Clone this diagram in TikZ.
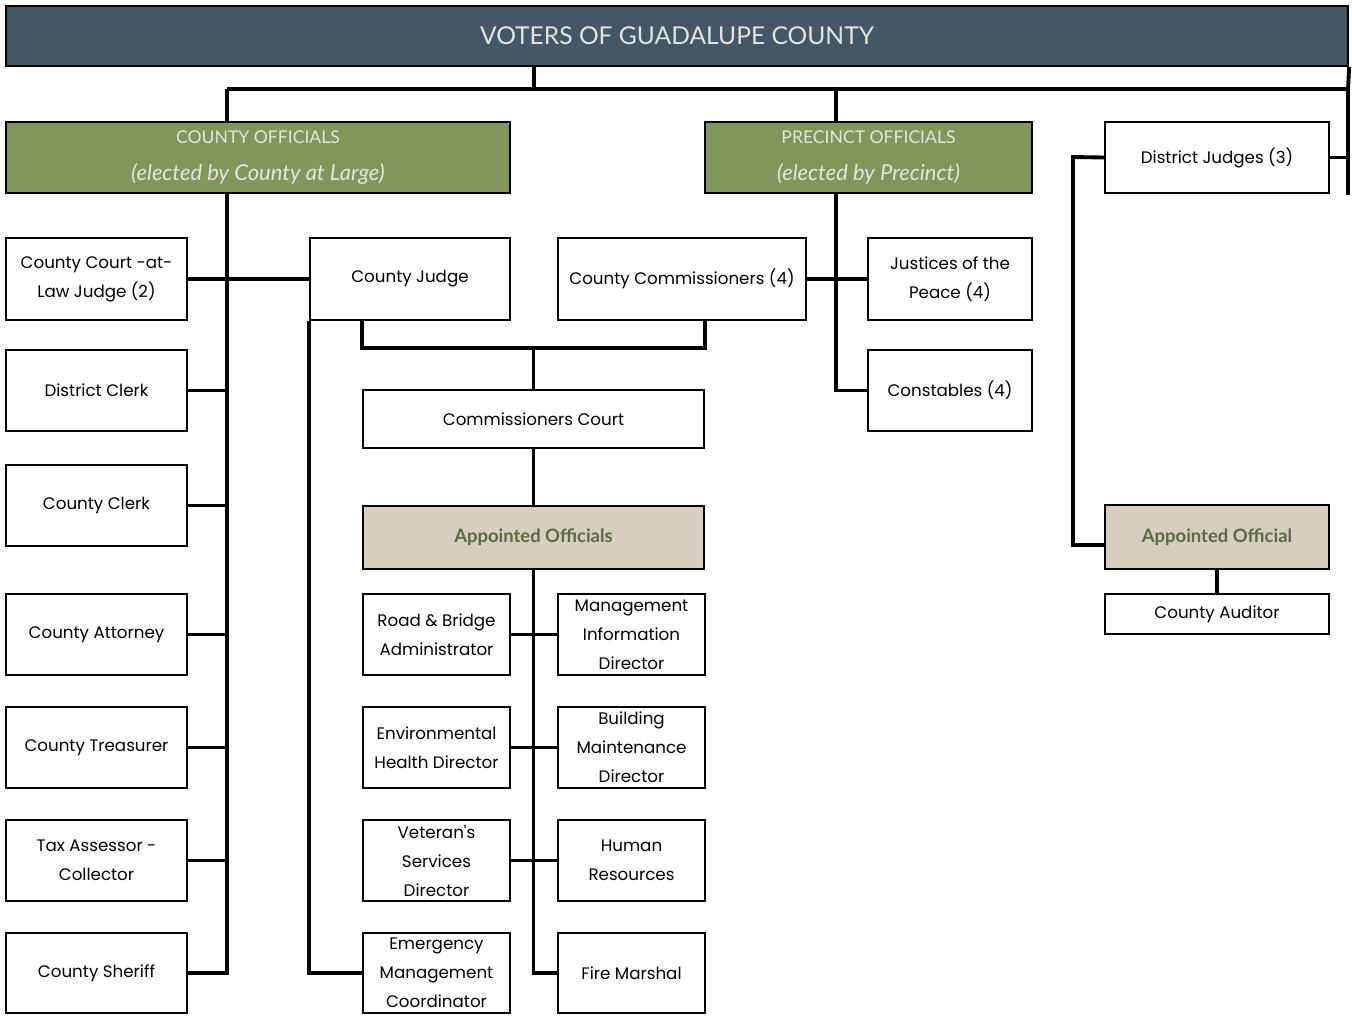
\documentclass[tikz,border=0pt]{standalone}
\usepackage{fontspec}
\usepackage{tikz}
\newfontfamily\bodyfont{Poppins}
\newfontfamily\headfont{Lato}

\definecolor{slate}{HTML}{435766}
\definecolor{olive}{HTML}{82965B}
\definecolor{sand}{HTML}{D6CEBF}
\definecolor{moss}{HTML}{5A6B3F}
\definecolor{pale}{HTML}{E4E4DC}

\tikzset{
  sz/.style 2 args={minimum width=#1*0.02cm, minimum height=#2*0.02cm},
  box/.style={draw, line width=1.3pt, fill=white, align=center, inner sep=0pt,
    font=\bodyfont\fontsize{9.5}{16.5}\selectfont},
  banner/.style={box, fill=slate, text=pale, font=\headfont\fontsize{14}{16}\selectfont},
  group/.style={box, fill=olive, text=pale, font=\headfont\fontsize{10}{20}\selectfont},
  appoint/.style={box, fill=sand, text=moss, font=\headfont\bfseries\fontsize{10.5}{12}\selectfont},
  link/.style={line width=2.2pt}
}
\newcommand{\electedby}[1]{{\fontsize{12.5}{14}\selectfont\itshape #1}}

\begin{document}
\begin{tikzpicture}[x=0.02cm, y=-0.02cm]
    \useasboundingbox (0,0) rectangle (1352,1015);

    % kopf
    \node[banner, sz={1342}{60}] (voters) at (677,36) {VOTERS OF GUADALUPE COUNTY};

    % gruppen
    \node[group, sz={504}{71}] (cofficials) at (258,157.5) {COUNTY OFFICIALS\\[1pt] \electedby{(elected by County at Large)}};
    \node[group, sz={327}{71}] (pofficials) at (868.5,157.5) {PRECINCT OFFICIALS\\[1pt] \electedby{(elected by Precinct)}};
    \node[box, sz={224}{71}] (djudges) at (1217,157.5) {District Judges (3)};

    % linke spalte
    \node[box, sz={181}{82}] (ccal) at (96.5,279) {County Court -at-\\Law Judge (2)};
    \node[box, sz={181}{81}] (dclerk) at (96.5,390.5) {District Clerk};
    \node[box, sz={181}{81}] (cclerk) at (96.5,505.5) {County Clerk};
    \node[box, sz={181}{81}] (cattorney) at (96.5,634.5) {County Attorney};
    \node[box, sz={181}{81}] (ctreasurer) at (96.5,747.5) {County Treasurer};
    \node[box, sz={181}{81}] (taxac) at (96.5,860.5) {Tax Assessor -\\Collector};
    \node[box, sz={181}{80}] (sheriff) at (96.5,973) {County Sheriff};

    % mitte
    \node[box, sz={200}{82}] (cjudge) at (410,279) {County Judge};
    \node[box, sz={248}{82}] (ccommiss) at (682,279) {County Commissioners (4)};
    \node[box, sz={341}{58}] (ccourt) at (533.5,419) {Commissioners Court};
    \node[appoint, sz={341}{63}] (appointed) at (533.5,537.5) {Appointed Officials};

    % ernannte
    \node[box, sz={147}{81}] (roadbridge) at (436.5,634.5) {Road \& Bridge\\Administrator};
    \node[box, sz={147}{81}] (mis) at (631.5,634.5) {Management\\Information\\Director};
    \node[box, sz={147}{81}] (envhealth) at (436.5,747.5) {Environmental\\Health Director};
    \node[box, sz={147}{81}] (building) at (631.5,747.5) {Building\\Maintenance\\Director};
    \node[box, sz={147}{81}] (veterans) at (436.5,860.5) {Veteran's\\Services\\Director};
    \node[box, sz={147}{81}] (hr) at (631.5,860.5) {Human\\Resources};
    \node[box, sz={147}{80}] (emc) at (436.5,973) {Emergency\\Management\\Coordinator};
    \node[box, sz={147}{80}] (fire) at (631.5,973) {Fire Marshal};

    % bezirk
    \node[box, sz={164}{82}] (justices) at (950,279) {Justices of the\\Peace (4)};
    \node[box, sz={164}{81}] (constables) at (950,390.5) {Constables (4)};

    % rechts
    \node[appoint, sz={224}{64}] (appointed1) at (1217,537) {Appointed Official};
    \node[box, sz={224}{40}] (auditor) at (1217,614) {County Auditor};

    % hilfspunkte
    \coordinate (top) at (534,89);
    \coordinate (cspine) at (227,89);
    \coordinate (pspine) at (836,89);
    \coordinate (rend) at (1348,195);
    \coordinate (jb) at (362,348);
    \coordinate (djbend) at (1073,157);
    \coordinate (djlow) at (1073,545);

    % verbindungen oben
    \draw[link] (voters.south -| top) -- (top);
    \draw[link] (cspine) -- (cspine -| rend) -- (rend);
    \draw[link] (voters.south east) -- (cspine -| rend);
    \draw[link] (cspine) -- (cspine |- cofficials.north);
    \draw[link] (pspine) -- (pspine |- pofficials.north);

    % linke achse
    \draw[link] (cspine |- cofficials.south) |- (sheriff.east);
    \draw[link] (ccal.east) -- (cjudge.west);
    \foreach \n in {dclerk,cclerk,cattorney,ctreasurer,taxac}
        \draw[link] (\n.east) -- (\n.east -| cspine);

    % gericht
    \draw[link] (jb |- cjudge.south) -- (jb) -| (ccommiss.south -| ccourt.east);
    \draw[link] (ccourt.north |- jb) -- (ccourt.north);
    \draw[link] (ccourt.south) -- (appointed.north);
    \draw[link] (cjudge.south west) |- (emc.west);

    % ernannte achse
    \draw[link] (appointed.south) |- (fire.west);
    \draw[link] (roadbridge.east) -- (mis.west);
    \draw[link] (envhealth.east) -- (building.west);
    \draw[link] (veterans.east) -- (hr.west);

    % bezirk achse
    \draw[link] (pspine |- pofficials.south) |- (constables.west);
    \draw[link] (ccommiss.east) -- (justices.west);

    % rechte seite
    \draw[link] (djudges.west) -- (djbend) -- (djlow) -- (djlow -| appointed1.west);
    \draw[link] (djudges.east) -- (djudges.east -| rend);
    \draw[link] (appointed1.south) -- (auditor.north);
\end{tikzpicture}
\end{document}
